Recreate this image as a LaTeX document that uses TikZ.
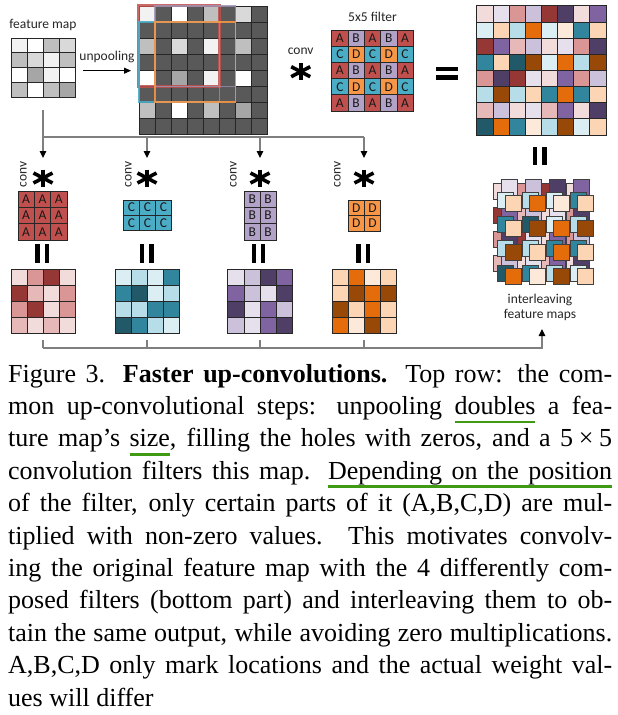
\documentclass[tikz,border=0pt]{standalone}
\usepackage{fontspec}
\setmainfont{Liberation Serif}
\newfontfamily\calfont{Carlito}
\usetikzlibrary{arrows.meta}
% colours
\definecolor{ga}{HTML}{F2F2F2}\definecolor{gb}{HTML}{D9D9D9}
\definecolor{gc}{HTML}{BFBFBF}\definecolor{gd}{HTML}{A6A6A6}
\definecolor{gk}{HTML}{595959}
\definecolor{ra}{HTML}{F2DCDB}\definecolor{rb}{HTML}{E6B9B8}
\definecolor{rc}{HTML}{D99694}\definecolor{rd}{HTML}{953735}
\definecolor{pa}{HTML}{E5E0EC}\definecolor{pb}{HTML}{CCC1DA}
\definecolor{pc}{HTML}{8064A2}\definecolor{pd}{HTML}{4F3F66}
\definecolor{ca}{HTML}{DBEEF4}\definecolor{cb}{HTML}{B7DEE8}
\definecolor{cc}{HTML}{31859C}\definecolor{cd}{HTML}{215968}
\definecolor{oa}{HTML}{FDE9D9}\definecolor{ob}{HTML}{FCD5B5}
\definecolor{oc}{HTML}{E46C0A}\definecolor{od}{HTML}{984807}
\definecolor{fA}{HTML}{C0504D}\definecolor{fB}{HTML}{B3A2C7}
\definecolor{fC}{HTML}{4BACC6}\definecolor{fD}{HTML}{F79646}
\definecolor{ulgreen}{HTML}{3F9B14}
\definecolor{lngray}{HTML}{7F7F7F}
% caption helpers
\newcommand\gul[1]{\setbox0\hbox{#1}\rlap{\color{ulgreen}\rule[-9pt]{\wd0}{2.8pt}}\box0\relax}
\newcommand\gulsp{{\color{ulgreen}\leaders\hrule height -6.2pt depth 9pt\hskip\fontdimen2\font plus\fontdimen3\font minus\fontdimen4\font}}
% grids
\newcommand\colgrid[5]{%
  \foreach \rw [count=\ii from 0] in {#5} {
    \foreach \cellc [count=\jj from 0] in \rw {
      \filldraw[cellb, fill=\cellc] ({#1+\jj*#3},{#2+\ii*#4}) rectangle ++(#3,#4);
    }}}
\newcommand\lettergrid[6]{%
  \foreach \rw [count=\ii from 0] in {#5} {
    \foreach \cellc/\lett [count=\jj from 0] in \rw {
      \filldraw[cellb, fill=\cellc] ({#1+\jj*#3},{#2+\ii*#4}) rectangle ++(#3,#4);
      \node[lettr] (#6-\ii-\jj) at ({#1+(\jj+0.5)*#3},{#2+(\ii+0.5)*#4}) {\lett};
    }}}
\newcommand\ilayer[3]{%
  \foreach \rw [count=\ii from 0] in {#3} {
    \foreach \cellc [count=\jj from 0] in \rw {
      \filldraw[ilb, fill=\cellc] ({#1+\jj*24.2},{#2+\ii*24.2}) rectangle ++(16,16);
    }}}
\newcommand\aster[2]{%
  \draw[astl] ({#1},{#2-8.5}) -- ({#1},{#2+8.5});
  \draw[astl] ({#1-9.5},{#2-5}) -- ({#1+9.5},{#2+5});
  \draw[astl] ({#1-9.5},{#2+5}) -- ({#1+9.5},{#2-5});}
\newcommand\veq[2]{%
  \fill ({#1-6.8},{#2}) rectangle ({#1-2.5},{#2+18.5});
  \fill ({#1+2.5},{#2}) rectangle ({#1+6.8},{#2+18.5});}
\begin{document}
\begin{tikzpicture}[x=1pt,y=-1pt,
  cellb/.style={draw=black!85, line width=0.7pt},
  ilb/.style={draw=black!75, line width=0.6pt},
  lettr/.style={inner sep=0pt, font=\calfont\fontsize{13.5}{14}\selectfont, text=black!90},
  lbl/.style={inner sep=0pt, font=\calfont\fontsize{13.5}{15}\selectfont, text=black!85},
  astl/.style={line width=3.6pt},
  conn/.style={draw=lngray, line width=1.1pt},
  arr/.style={-{Triangle[length=7pt,width=6.5pt,black]}},
  capline/.style={inner sep=0pt, anchor=base west, font=\fontsize{26}{32}\selectfont}]
\useasboundingbox (0,0) rectangle (618,715);
\fill[white] (0,0) rectangle (618,715);

% ---------- top row ----------
\node[lbl] (fmlab) at (43,25) {feature map};
\colgrid{11}{38}{16.2}{14.8}{{ga,white,gc,gb},{gc,gb,ga,gc},{white,gd,ga,white},{gc,white,gc,gd}}
\node[lbl] (unplab) at (107,57) {unpooling};
\coordinate (unpa) at (83,70.7);
\coordinate (unpb) at (131,70.7);
\draw[line width=0.8pt, -{Triangle[length=7pt,width=6pt]}] (unpa) -- (unpb);

\colgrid{139}{6}{16.05}{16.05}{%
 {ga,gk,white,gk,gc,gk,gb,gk},{gk,gk,gk,gk,gk,gk,gk,gk},
 {gc,gk,gb,gk,ga,gk,gc,gk},{gk,gk,gk,gk,gk,gk,gk,gk},
 {white,gk,gd,gk,ga,gk,white,gk},{gk,gk,gk,gk,gk,gk,gk,gk},
 {gc,gk,white,gk,gc,gk,gd,gk},{gk,gk,gk,gk,gk,gk,gk,gk}}
\draw[fA, opacity=0.85, line width=2.6pt] (138.5,5.5) rectangle (219.5,86.3);
\draw[fB!90!black, opacity=0.85, line width=1.5pt] (155,5.8) rectangle (235.4,86.3);
\draw[fC, opacity=0.9, line width=1.5pt] (139,22) rectangle (219.3,102.2);
\draw[fD, opacity=0.9, line width=1.5pt] (155,22) rectangle (235.4,102.2);

\node[lbl] (convtop) at (300.7,51.7) {conv};
\aster{300.7}{71.7}
\node[lbl] (filtlab) at (372.5,17.3) {5x5 filter};
\lettergrid{331.7}{30}{16.3}{16.2}{%
 {fA/A,fB/B,fA/A,fB/B,fA/A},{fC/C,fD/D,fC/C,fD/D,fC/C},
 {fA/A,fB/B,fA/A,fB/B,fA/A},{fC/C,fD/D,fC/C,fD/D,fC/C},
 {fA/A,fB/B,fA/A,fB/B,fA/A}}{ff}
\fill (436,66.7) rectangle (458,70.9);
\fill (436,75.3) rectangle (458,79.5);

\colgrid{476.7}{5.7}{16.15}{16.15}{%
 {ra,pa,rc,pb,rd,pd,ra,pc},{ca,ob,cb,oc,ca,oa,cc,ob},
 {rd,pc,rb,pb,ra,pa,rc,pd},{cc,ob,cd,od,ca,oc,cb,od},
 {rc,pd,rd,pa,ra,pc,rc,pb},{cb,od,cb,ob,cc,oc,cc,ob},
 {rb,pb,ra,pa,rb,pc,ra,pd},{cd,oc,cc,oa,cb,od,ca,ob}}

% ---------- connectors from feature map ----------
\coordinate (fmt) at (43,110);
\coordinate (s1) at (43,137);  \coordinate (s2) at (147,137);
\coordinate (s3) at (260,137); \coordinate (s4) at (364,137);
\coordinate (i1) at (43,158);  \coordinate (i2) at (147,158);
\coordinate (i3) at (260,158); \coordinate (i4) at (364,158);
\draw[conn] (fmt) -- (s1) -- (s4);
\draw[conn, arr] (s1) -- (i1);
\draw[conn, arr] (s2) -- (i2);
\draw[conn, arr] (s3) -- (i3);
\draw[conn, arr] (s4) -- (i4);

% ---------- bottom row ----------
\node[lbl, rotate=90] (conv1) at (23.3,174.7) {conv};
\node[lbl, rotate=90] (conv2) at (128.3,174.7) {conv};
\node[lbl, rotate=90] (conv3) at (233.3,174.7) {conv};
\node[lbl, rotate=90] (conv4) at (337.3,174.7) {conv};
\aster{43}{178}
\aster{147}{178}
\aster{260}{178}
\aster{364}{178}

\lettergrid{18}{191}{16.3}{16.3}{{fA/A,fA/A,fA/A},{fA/A,fA/A,fA/A},{fA/A,fA/A,fA/A}}{fa}
\lettergrid{123.3}{200}{16.1}{15.3}{{fC/C,fC/C,fC/C},{fC/C,fC/C,fC/C}}{fc}
\lettergrid{244.3}{191}{15.85}{16.3}{{fB/B,fB/B},{fB/B,fB/B},{fB/B,fB/B}}{fb}
\lettergrid{348}{200}{16.3}{15.5}{{fD/D,fD/D},{fD/D,fD/D}}{fd}

\veq{42}{244.3}
\veq{146.7}{244.3}
\veq{258.5}{244.3}
\veq{363}{244.3}

\colgrid{11}{269}{16.2}{16.2}{{ra,rc,rd,ra},{rd,rb,ra,rc},{rc,rd,ra,rc},{rb,ra,rb,ra}}
\colgrid{115}{269}{16.2}{16.2}{{ca,cb,ca,cc},{cc,cd,ca,cb},{cb,cb,cc,cc},{cd,cc,cb,ca}}
\colgrid{227.7}{269}{16.2}{16.2}{{pa,pb,pd,pc},{pc,pb,pa,pd},{pd,pa,pc,pb},{pb,pa,pc,pd}}
\colgrid{332}{269}{16.2}{16.2}{{ob,oc,oa,ob},{ob,od,oc,od},{od,ob,oc,ob},{oc,oa,od,ob}}

% ---------- interleaving ----------
\veq{539.7}{146.5}
\ilayer{493.3}{183}{{ra,rc,rd,ra},{rd,rb,ra,rc},{rc,rd,ra,rc},{rb,ra,rb,ra}}
\ilayer{501}{179.7}{{pa,pb,pd,pc},{pc,pb,pa,pd},{pd,pa,pc,pb},{pb,pa,pc,pd}}
\ilayer{497.7}{192.3}{{ca,cb,ca,cc},{cc,cd,ca,cb},{cb,cb,cc,cc},{cd,cc,cb,ca}}
\ilayer{505}{195.7}{{ob,oc,oa,ob},{ob,od,oc,od},{od,ob,oc,ob},{oc,oa,od,ob}}
\node[lbl, align=center] (illab) at (540,307.5) {interleaving\\feature maps};

% ---------- connectors to interleaving ----------
\coordinate (o1) at (43,340);  \coordinate (o2) at (147,340);
\coordinate (o3) at (260,340); \coordinate (o4) at (364,340);
\coordinate (b1) at (43,348);  \coordinate (b2) at (147,348);
\coordinate (b3) at (260,348); \coordinate (b4) at (364,348);
\coordinate (bend) at (542,348);
\coordinate (ilin) at (542,329);
\draw[conn] (o1) -- (b1);
\draw[conn] (o2) -- (b2);
\draw[conn] (o3) -- (b3);
\draw[conn] (o4) -- (b4);
\draw[conn, arr] (b1) -- (bend) -- (ilin);

% ---------- caption ----------
\node[capline] (c1) at (8,382) {\makebox[604pt][s]{Figure 3. \textbf{Faster up-convolutions.} Top row: the com-}};
\node[capline] (c2) at (8,414.4) {\makebox[604pt][s]{mon up-convolutional steps: unpooling \gul{doubles} a fea-}};
\node[capline] (c3) at (8,446.8) {\makebox[604pt][s]{ture map's \gul{size}, filling the holes with zeros, and a 5\hspace{0.22em}×\hspace{0.22em}5}};
\node[capline] (c4) at (8,479.2) {\makebox[604pt][s]{convolution filters this map. \gul{Depending}\gulsp\gul{on}\gulsp\gul{the}\gulsp\gul{position}}};
\node[capline] (c5) at (8,511.6) {\makebox[604pt][s]{of the filter, only certain parts of it (A,B,C,D) are mul-}};
\node[capline] (c6) at (8,544) {\makebox[604pt][s]{tiplied with non-zero values. This motivates convolv-}};
\node[capline] (c7) at (8,576.4) {\makebox[604pt][s]{ing the original feature map with the 4 differently com-}};
\node[capline] (c8) at (8,608.8) {\makebox[604pt][s]{posed filters (bottom part) and interleaving them to ob-}};
\node[capline] (c9) at (8,641.2) {\makebox[604pt][s]{tain the same output, while avoiding zero multiplications.}};
\node[capline] (c10) at (8,673.6) {\makebox[604pt][s]{A,B,C,D only mark locations and the actual weight val-}};
\node[capline] (c11) at (8,706) {ues will differ};
\end{tikzpicture}
\end{document}
